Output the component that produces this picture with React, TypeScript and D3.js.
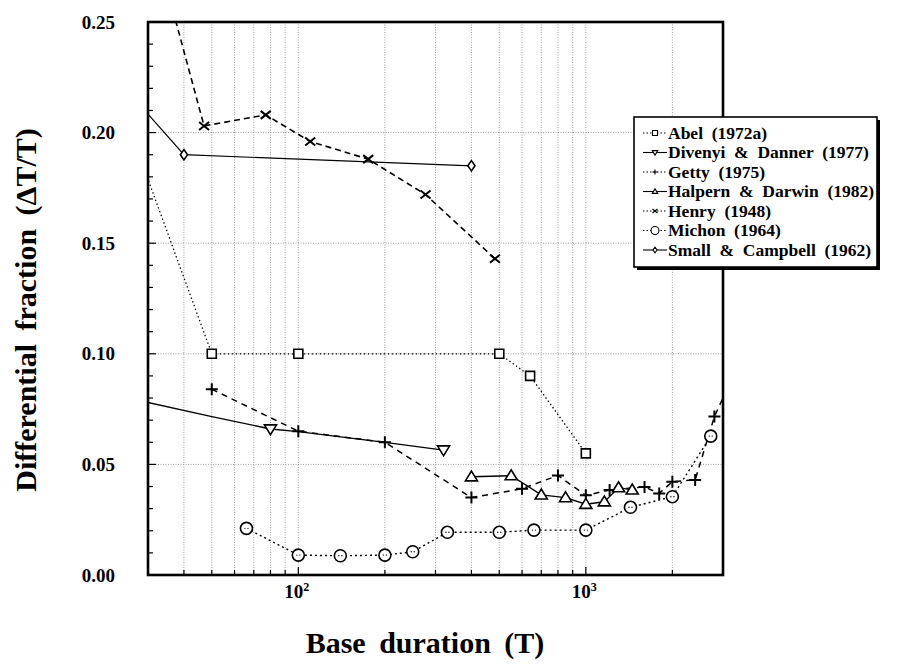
import React from "react";
import * as d3 from "d3";

// ---- data ----
const abelX = [25, 50, 100, 500, 640, 1000];
const abelY = [0.207, 0.1, 0.1, 0.1, 0.09, 0.055];

const divenyiFitX = [30, 50, 80, 100, 200, 320];
const divenyiFitY = [0.078, 0.0716, 0.066, 0.0648, 0.06, 0.0565];
const divenyiX = [80, 320];
const divenyiY = [0.066, 0.0565];

const gettyX = [50, 100, 200, 400, 600, 800, 1000, 1210, 1600, 1800, 2000, 2400, 2800, 3200];
const gettyY = [0.084, 0.065, 0.06, 0.035, 0.039, 0.045, 0.036, 0.0384, 0.0398, 0.0369, 0.0422, 0.043, 0.0716, 0.088];

const halpernX = [400, 550, 700, 850, 1000, 1160, 1300, 1450];
const halpernY = [0.0444, 0.0449, 0.0362, 0.035, 0.032, 0.0331, 0.0395, 0.0385];

const henryX = [33, 47, 77, 110, 175, 277, 483];
const henryY = [0.277, 0.203, 0.208, 0.196, 0.188, 0.172, 0.143];

const michonX = [66, 100, 140, 200, 250, 330, 500, 660, 1000, 1430, 2000, 2720];
const michonY = [0.0211, 0.009, 0.0087, 0.009, 0.0105, 0.0193, 0.0193, 0.0203, 0.0203, 0.0306, 0.0354, 0.0628];

const smallX = [25, 40, 400];
const smallY = [0.22, 0.19, 0.185];

const yTickValues = [0, 0.05, 0.1, 0.15, 0.2, 0.25];
const yTickLabels = ["0.00", "0.05", "0.10", "0.15", "0.20", "0.25"];
const xTickValues = [100, 1000];
const xTickExponents = ["2", "3"];

const legendLabels = [
  "Abel  (1972a)",
  "Divenyi  &  Danner  (1977)",
  "Getty  (1975)",
  "Halpern  &  Darwin  (1982)",
  "Henry  (1948)",
  "Michon  (1964)",
  "Small  &  Campbell  (1962)",
];

// ---- layout ----
const W = 905;
const H = 664;
const X0 = 148;
const X1 = 723;
const Y0 = 22;
const Y1 = 575;
const FONT = "Liberation Serif";

const x = d3.scaleLog().domain([30, 3000]).range([X0, X1]);
const y = d3.scaleLinear().domain([0, 0.25]).range([Y1, Y0]);

type Marker = "square" | "tdown" | "plus" | "tup" | "cross" | "circle" | "diamond";

function markerPath(m: Marker, s: number): string {
  const h = s / 2;
  switch (m) {
    case "square":
      return `M${-h},${-h}H${h}V${h}H${-h}Z`;
    case "tdown":
      return `M${-h * 1.1},${-h * 0.75}H${h * 1.1}L0,${h * 1.05}Z`;
    case "tup":
      return `M${-h * 1.1},${h * 0.75}H${h * 1.1}L0,${-h * 1.05}Z`;
    case "plus":
      return `M${-h},0H${h}M0,${-h}V${h}`;
    case "cross":
      return `M${-h},${-h * 0.8}L${h},${h * 0.8}M${-h},${h * 0.8}L${h},${-h * 0.8}`;
    case "diamond":
      return `M0,${-h * 1.15}L${h * 0.8},0L0,${h * 1.15}L${-h * 0.8},0Z`;
    case "circle":
    default:
      return `M${-h},0A${h},${h} 0 1,0 ${h},0A${h},${h} 0 1,0 ${-h},0Z`;
  }
}

type Series = {
  lx: number[];
  ly: number[];
  mx: number[];
  my: number[];
  marker: Marker;
  size: number;
  dash: string;
  width: number;
};

const series: Series[] = [
  { lx: abelX, ly: abelY, mx: abelX, my: abelY, marker: "square", size: 9, dash: "1.4,2.6", width: 1.3 },
  { lx: divenyiFitX, ly: divenyiFitY, mx: divenyiX, my: divenyiY, marker: "tdown", size: 11, dash: "", width: 1.3 },
  { lx: gettyX, ly: gettyY, mx: gettyX, my: gettyY, marker: "plus", size: 12, dash: "6,5", width: 1.5 },
  { lx: halpernX, ly: halpernY, mx: halpernX, my: halpernY, marker: "tup", size: 11, dash: "", width: 1.4 },
  { lx: henryX, ly: henryY, mx: henryX, my: henryY, marker: "cross", size: 10, dash: "6,4", width: 1.6 },
  { lx: michonX, ly: michonY, mx: michonX, my: michonY, marker: "circle", size: 12, dash: "2,3", width: 1.4 },
  { lx: smallX, ly: smallY, mx: smallX, my: smallY, marker: "diamond", size: 9, dash: "", width: 1.2 },
];

const lineGen = d3
  .line<[number, number]>()
  .x((d) => x(d[0]))
  .y((d) => y(d[1]));

const minorY = d3.range(0, 0.2501, 0.01);
const gridX = [40, 50, 60, 70, 80, 90, 100, 200, 300, 400, 500, 600, 700, 800, 900, 1000, 2000];
const gridY = [0.05, 0.1, 0.15, 0.2];

export default function App() {
  const legX = 634;
  const legY = 117;
  const legW = 243;
  const legH = 150;
  const rowY0 = 133;
  const rowStep = 19.5;

  return (
    <svg width={W} height={H} style={{ position: "absolute", left: 0, top: 0, background: "#fff" }}>
      <defs>
        <clipPath id="plotClip">
          <rect x={X0} y={Y0} width={X1 - X0} height={Y1 - Y0} />
        </clipPath>
      </defs>
      <rect x={0} y={0} width={W} height={H} fill="#fff" />

      {/* grid */}
      <g stroke="#888" strokeWidth={0.8} strokeDasharray="1,1.5">
        {gridX.map((v) => (
          <line key={"gx" + v} x1={x(v)} x2={x(v)} y1={Y0} y2={Y1} />
        ))}
        {gridY.map((v) => (
          <line key={"gy" + v} x1={X0} x2={X1} y1={y(v)} y2={y(v)} />
        ))}
      </g>

      {/* minor ticks */}
      <g stroke="#000" strokeWidth={1.2}>
        {minorY.map((v, i) => (
          <line key={"my" + i} x1={X0} x2={X0 + (i % 5 === 0 ? 8 : 5)} y1={y(v)} y2={y(v)} />
        ))}
        {gridX.map((v) => (
          <line key={"mx" + v} x1={x(v)} x2={x(v)} y1={Y1} y2={Y1 - (v === 100 || v === 1000 ? 8 : 5)} />
        ))}
      </g>

      {/* series */}
      <g clipPath="url(#plotClip)">
        {series.map((s, i) => (
          <path
            key={"l" + i}
            d={lineGen(s.lx.map((v, j) => [v, s.ly[j]] as [number, number])) || ""}
            fill="none"
            stroke="#000"
            strokeWidth={s.width}
            strokeDasharray={s.dash || undefined}
          />
        ))}
        {series.map((s, i) =>
          s.mx.map((v, j) => (
            <g key={"m" + i + "-" + j} transform={`translate(${x(v)},${y(s.my[j])})`}>
              <path
                d={markerPath(s.marker, s.size)}
                fill={s.marker === "plus" || s.marker === "cross" ? "none" : "#fff"}
                stroke="#000"
                strokeWidth={s.marker === "plus" || s.marker === "cross" ? 2 : 1.6}
              />
              {s.marker === "circle" && (
                <g fill="#000">
                  <circle cx={-1.5} cy={0} r={0.7} />
                  <circle cx={1.5} cy={0} r={0.7} />
                </g>
              )}
            </g>
          ))
        )}
      </g>

      {/* frame */}
      <rect x={X0} y={Y0} width={X1 - X0} height={Y1 - Y0} fill="none" stroke="#000" strokeWidth={2.6} />

      {/* y tick labels */}
      <g>
        {yTickValues.map((v, i) => (
          <text
            key={"yt" + i}
            x={115}
            y={y(v) + 6.5}
            fontFamily={FONT}
            fontSize={19}
            fontWeight="bold"
            textAnchor="end"
          >
            {yTickLabels[i]}
          </text>
        ))}
      </g>

      {/* x tick labels */}
      <g>
        {xTickValues.map((v, i) => (
          <text key={"xt" + i} x={x(v) - 14} y={598} fontFamily={FONT} fontSize={19} fontWeight="bold">
            10
            <tspan fontSize={12} dy={-7}>
              {xTickExponents[i]}
            </tspan>
          </text>
        ))}
      </g>

      {/* axis titles */}
      <text
        x={425}
        y={653}
        fontFamily={FONT}
        fontSize={30}
        fontWeight="bold"
        textAnchor="middle"
        wordSpacing={6}
      >
        Base duration (T)
      </text>
      <text
        transform={`translate(36,310) rotate(-90)`}
        fontFamily={FONT}
        fontSize={30}
        fontWeight="bold"
        textAnchor="middle"
        wordSpacing={6}
      >
        Differential fraction (ΔT/T)
      </text>

      {/* legend */}
      <rect x={legX + 3} y={legY + 3} width={legW} height={legH} fill="#000" />
      <rect x={legX} y={legY} width={legW} height={legH} fill="#fff" stroke="#000" strokeWidth={1.6} />
      {series.map((s, i) => {
        const ry = rowY0 + i * rowStep;
        return (
          <g key={"lg" + i}>
            <line
              x1={legX + 9}
              x2={legX + 33}
              y1={ry}
              y2={ry}
              stroke="#000"
              strokeWidth={1.1}
              strokeDasharray={s.dash ? "1.5,2" : undefined}
            />
            <path
              transform={`translate(${legX + 21},${ry})`}
              d={markerPath(s.marker, s.marker === "circle" ? 8 : 5)}
              fill={s.marker === "plus" || s.marker === "cross" ? "none" : "#fff"}
              stroke="#000"
              strokeWidth={1.1}
            />
            <text
              x={legX + 34}
              y={ry + 5.5}
              fontFamily={FONT}
              fontSize={17.5}
              fontWeight="bold"
              style={{ whiteSpace: "pre" }}
            >
              {legendLabels[i]}
            </text>
          </g>
        );
      })}
    </svg>
  );
}
